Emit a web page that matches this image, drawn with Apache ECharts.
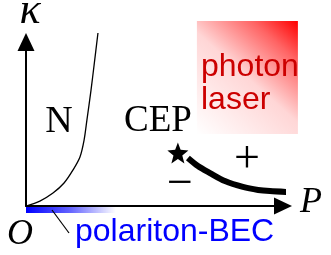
<!DOCTYPE html>
<html>
<head>
<meta charset="utf-8">
<script src="https://cdn.jsdelivr.net/npm/echarts@6/dist/echarts.min.js"></script>
<style>
  html, body { margin: 0; padding: 0; background: #fff; }
  #main { width: 331px; height: 255px; }
</style>
</head>
<body>
<div id="main"></div>
<script>
// phase boundary of the normal (N) region
var nLineP = [0, 0.54, 1.05, 1.48, 1.83, 2.10, 2.26, 2.37, 2.53, 2.65, 2.80];
var nLineK = [0, 0.30, 0.79, 1.40, 2.20, 2.99, 4.02, 5.24, 7.07, 8.60, 10.55];
// first-order line ending at the critical end point
var cepLineP = [6.30, 6.69, 7.16, 7.74, 8.44, 9.03, 9.49, 10.27];
var cepLineK = [2.93, 2.44, 2.01, 1.52, 1.16, 0.98, 0.91, 0.85];
var cepPoint = [5.91, 3.23];
// regions
var becRange = [0, 3.5];
var laserP = [6.65, 10.58];
var laserK = [4.39, 11.28];

function pairs(xs, ys) {
    var out = [];
    for (var i = 0; i < xs.length; i++) out.push([xs[i], ys[i]]);
    return out;
}

var chart = echarts.init(document.getElementById('main'));

var axisBase = {
    type: 'value',
    min: 0,
    max: 10,
    axisLine: {
        show: true,
        symbol: ['none', 'triangle'],
        symbolSize: [17, 18],
        lineStyle: { color: '#000', width: 2 }
    },
    axisTick: { show: false },
    axisLabel: { show: false },
    splitLine: { show: false }
};

chart.setOption({
    animation: false,
    grid: { left: 26, top: 42, right: 48, bottom: 49 },
    xAxis: axisBase,
    yAxis: axisBase,
    series: [{
        type: 'line',
        data: pairs(nLineP, nLineK),
        smooth: 0.3,
        showSymbol: false,
        clip: false,
        lineStyle: { color: '#000', width: 1.3 }
    }, {
        type: 'line',
        data: pairs(cepLineP, cepLineK),
        smooth: 0.3,
        showSymbol: false,
        clip: false,
        lineStyle: { color: '#000', width: 6 }
    }, {
        type: 'scatter',
        data: [cepPoint],
        symbol: 'path://M50,0 L63,33 L100,36 L71,59 L81,95 L50,75 L19,95 L29,59 L0,36 L37,33 Z',
        symbolSize: 21,
        itemStyle: { color: '#000', opacity: 1 }
    }]
});

var bec0 = chart.convertToPixel({ gridIndex: 0 }, [becRange[0], 0]);
var bec1 = chart.convertToPixel({ gridIndex: 0 }, [becRange[1], 0]);
var las0 = chart.convertToPixel({ gridIndex: 0 }, [laserP[0], laserK[1]]);
var las1 = chart.convertToPixel({ gridIndex: 0 }, [laserP[1], laserK[0]]);

var serif = '"Liberation Serif", "DejaVu Serif", serif';
var sans = '"Liberation Sans", Arial, sans-serif';

function label(text, x, y, font, color, align) {
    return {
        type: 'text',
        z: 10,
        style: {
            x: x, y: y, text: text, font: font, fill: color || '#000',
            align: align || 'center', verticalAlign: 'middle'
        }
    };
}

chart.setOption({
    graphic: [{
        type: 'rect',
        z: 1,
        shape: { x: las0[0], y: las0[1], width: las1[0] - las0[0], height: las1[1] - las0[1] },
        style: {
            fill: new echarts.graphic.LinearGradient(0, 1, 1, 0, [
                { offset: 0, color: '#ffffff' },
                { offset: 0.5, color: '#ffd6d6' },
                { offset: 0.8, color: '#ff6464' },
                { offset: 1, color: '#ff0000' }
            ])
        }
    }, {
        type: 'rect',
        z: 1,
        shape: { x: bec0[0], y: bec0[1] + 1, width: bec1[0] - bec0[0], height: 6 },
        style: {
            fill: new echarts.graphic.LinearGradient(0, 0, 1, 0, [
                { offset: 0, color: '#0000ff' },
                { offset: 0.5, color: 'rgba(0,0,255,0.6)' },
                { offset: 1, color: 'rgba(0,0,255,0)' }
            ])
        }
    }, {
        type: 'line',
        z: 2,
        shape: { x1: 52, y1: 210, x2: 69, y2: 233 },
        style: { stroke: '#000', lineWidth: 1.2 }
    },
    label('κ', 30, 11, 'italic 44px ' + serif),
    label('N', 59, 122, '38px ' + serif),
    label('CEP', 158, 121, '37px ' + serif),
    label('+', 247, 160, '46px ' + serif),
    label('−', 180, 185, '46px ' + serif),
    label('P', 311, 203, 'italic 36px ' + serif),
    label('O', 20, 235, 'italic 36px ' + serif),
    label('photon', 201, 67, '32px ' + sans, '#cc0000', 'left'),
    label('laser', 201, 100, '32px ' + sans, '#cc0000', 'left'),
    label('polariton-BEC', 75, 232, '32px ' + sans, '#0000ff', 'left')
    ]
});
</script>
</body>
</html>
